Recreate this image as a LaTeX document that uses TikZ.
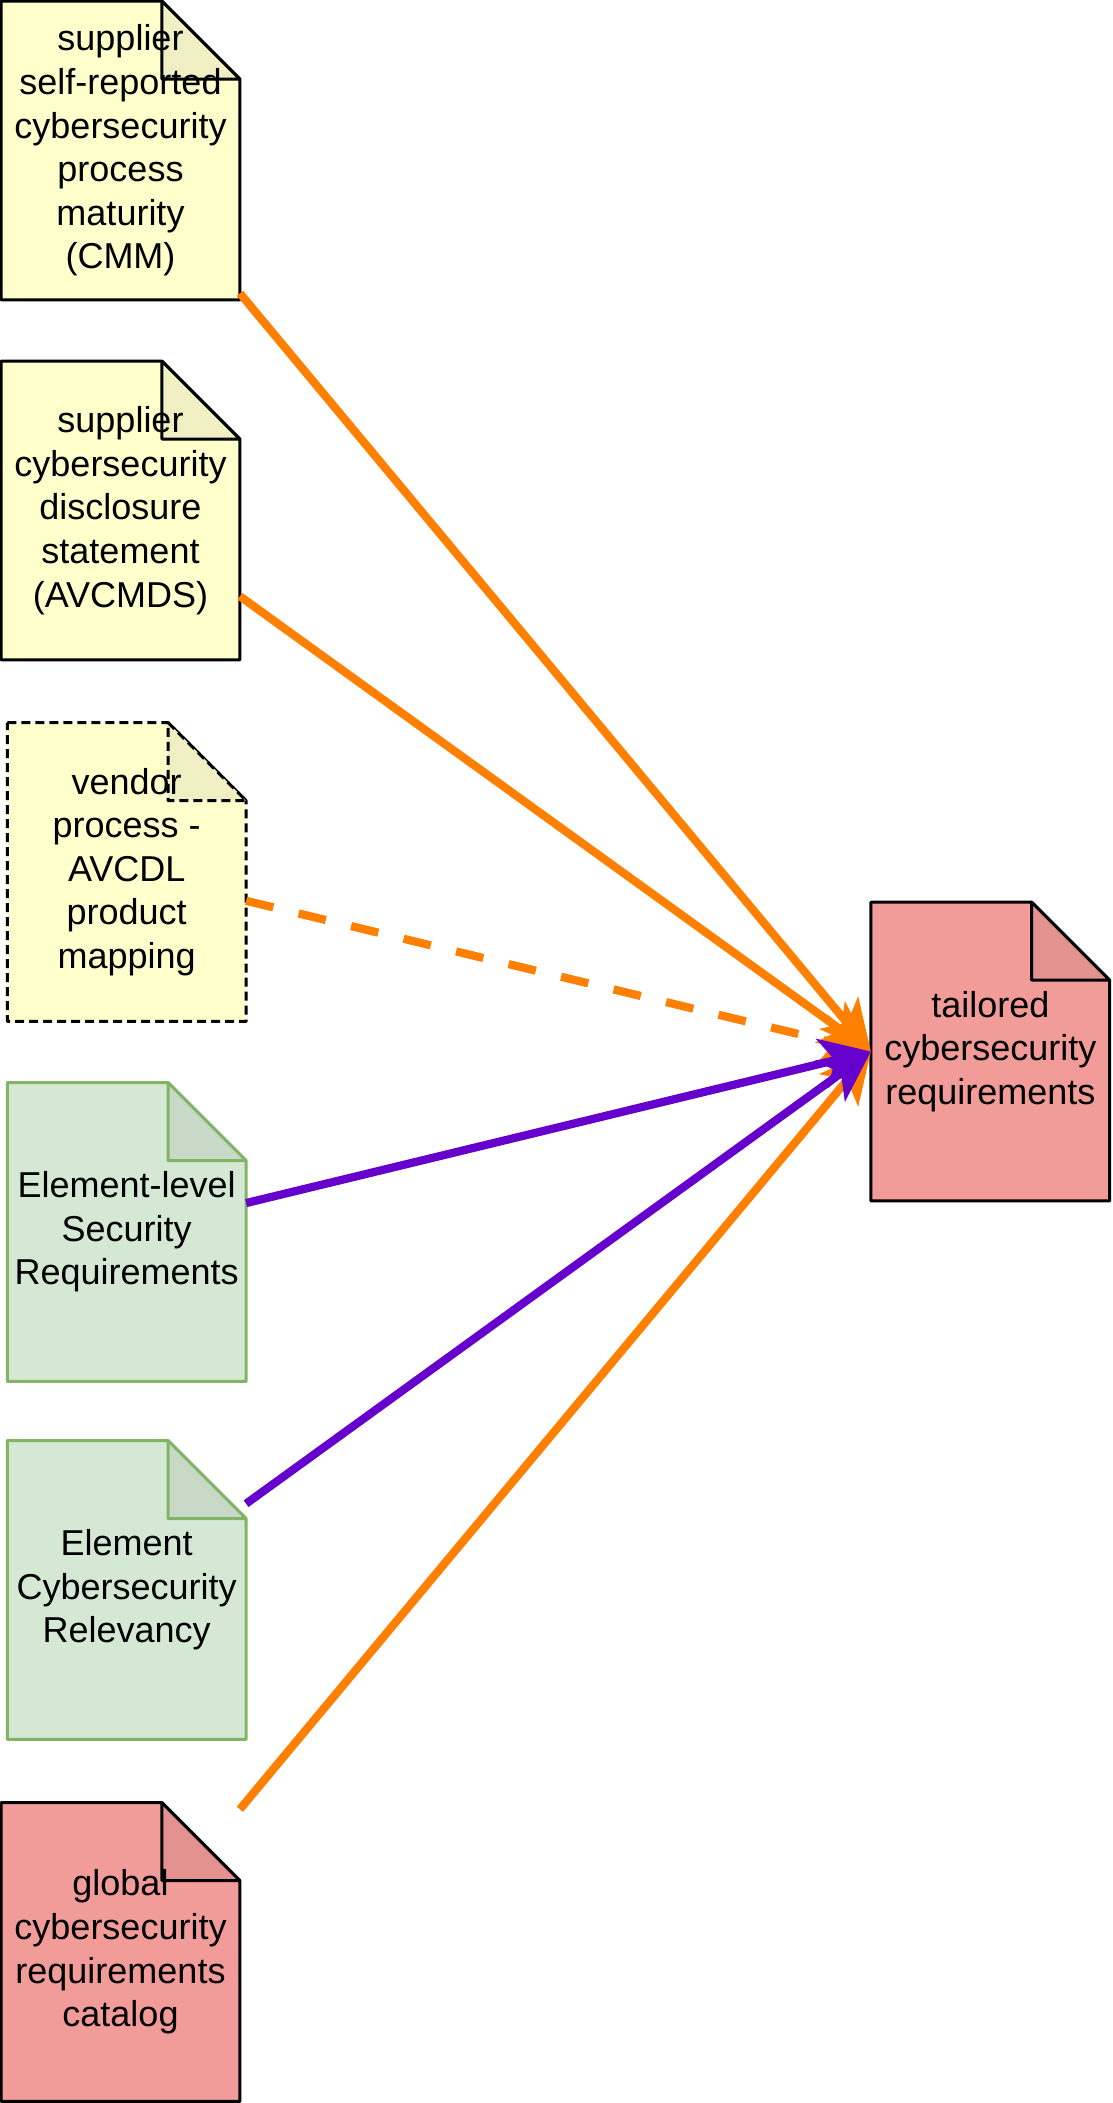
\documentclass[tikz,border=0pt]{standalone}
\usepackage{fontspec}
\setmainfont{Liberation Sans}
\usepackage{xcolor}
\usepackage{tikz}
\usetikzlibrary{arrows.meta,calc}
\definecolor{docyellow}{HTML}{FFFFCC}
\definecolor{foldyellow}{HTML}{EFEFC3}
\definecolor{docgreen}{HTML}{D5E8D4}
\definecolor{foldgreen}{HTML}{C8DAC7}
\definecolor{edgegreen}{HTML}{82B366}
\definecolor{docred}{HTML}{F19C99}
\definecolor{foldred}{HTML}{E3928F}
\definecolor{feedorange}{HTML}{FF8000}
\definecolor{reqpurple}{HTML}{6600CC}
\pgfdeclarelayer{background}
\pgfsetlayers{background,main}

\begin{document}
\begin{tikzpicture}[x=0.5pt,y=-0.5pt,
  font=\fontsize{18}{21.8}\selectfont,
  doc/.style={minimum width=119pt,minimum height=149pt,inner sep=0pt,align=center},
  plainline/.style={draw=black,line width=1.5pt},
  dashline/.style={plainline,dash pattern=on 4.5pt off 2.5pt},
  greenline/.style={draw=edgegreen,line width=1.5pt},
  feed/.style={-{Stealth[length=25pt,width=25pt,inset=6.5pt]},draw=feedorange,line width=4.1pt},
  planned/.style={feed,dash pattern=on 14pt off 13pt},
  req/.style={feed,draw=reqpurple}]

\useasboundingbox (0,0) rectangle (1113,2103);

\node[doc] (cmm) at (120.5,150.5) {supplier\\self-reported\\cybersecurity\\process\\maturity\\(CMM)};
\node[doc] (avcmds) at (120.5,510.5) {supplier\\cybersecurity\\disclosure\\statement\\(AVCMDS)};
\node[doc] (mapping) at (126.7,872) {vendor\\process -\\AVCDL\\product\\mapping};
\node[doc] (elsec) at (126.7,1232) {Element-level\\Security\\Requirements};
\node[doc] (relev) at (126.7,1590) {Element\\Cybersecurity\\Relevancy};
\node[doc] (catalog) at (120.5,1952) {global\\cybersecurity\\requirements\\catalog};
\node[doc] (tailored) at (990.3,1051.5) {tailored\\cybersecurity\\requirements};

% note outlines with folded corner, behind the texts
\begin{pgfonlayer}{background}
\foreach \n/\fc/\kc/\sc in {cmm/docyellow/foldyellow/plainline,
    avcmds/docyellow/foldyellow/plainline,
    mapping/docyellow/foldyellow/dashline,
    elsec/docgreen/foldgreen/greenline,
    relev/docgreen/foldgreen/greenline,
    catalog/docred/foldred/plainline,
    tailored/docred/foldred/plainline}{
  \draw[\sc,fill=\fc,line join=bevel] (\n.north west) -- ([xshift=-39pt]\n.north east)
    -- ([yshift=-39pt]\n.north east) -- (\n.south east) -- (\n.south west) -- cycle;
  \draw[\sc,fill=\kc,line join=bevel] ([xshift=-39pt]\n.north east) -- ([yshift=-39pt]\n.north east)
    -- ([xshift=-39pt,yshift=-39pt]\n.north east) -- cycle;
}
\end{pgfonlayer}

\draw[feed] (cmm) -- (tailored.west);
\draw[feed] (avcmds) -- (tailored.west);
\draw[planned] (mapping) -- (tailored.west);
\draw[feed] (catalog) -- (tailored.west);
\draw[req] (elsec) -- (tailored.west);
\draw[req] (relev) -- (tailored.west);

\end{tikzpicture}
\end{document}
